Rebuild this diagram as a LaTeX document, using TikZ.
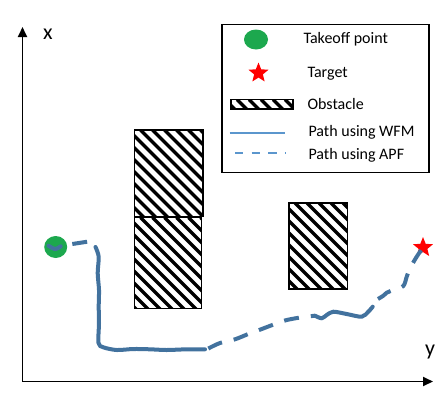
\documentclass[tikz,border=0pt]{standalone}
\usepackage{fontspec}
\setmainfont{Carlito}
\usetikzlibrary{shapes.geometric, arrows.meta}
\definecolor{pathblue}{RGB}{66,114,158}
\definecolor{legblue}{RGB}{91,150,205}
\definecolor{startgreen}{RGB}{28,168,78}
\tikzstyle{axis} = [line width = 1.8, -{Triangle[length=10pt, width=9pt]}]
\tikzstyle{wfm} = [line width = 4, color = pathblue, line cap = round, line join = round]
\tikzstyle{apf} = [line width = 4, color = pathblue, dash pattern = on 15pt off 12pt]
\newcommand{\hatchbox}[4]{
	\begin{scope}
		\clip (#1,#2) rectangle (#3,#4);
		\foreach \t in {-150,-138,...,100}
			\draw[line width = 3.4] ({#1+\t},#2) -- ++(160,160);
	\end{scope}
	\draw[line width = 1.8] (#1,#2) rectangle (#3,#4);}

\begin{document}
\begin{tikzpicture}[x=1pt, y=-1pt, legtext/.style={anchor=west, font=\fontsize{16}{19}\selectfont}]
	\useasboundingbox (0,0) rectangle (446,402);

	% Grid
%	\draw[dotted] (0,0) grid[step=20] (446,402);

	% Coordinates
	\coordinate (O) at (22.5,381.5);
	\coordinate (xend) at (22.5,27);
	\coordinate (yend) at (433,381.5);

	% Axes
	\draw[axis] (O) -- (xend);
	\draw[axis] (O) -- (yend);
	\node (xlab) [font=\fontsize{22}{24}\selectfont] at (48,34) {x};
	\node (ylab) [font=\fontsize{22}{24}\selectfont] at (430,352) {y};

	% Obstacles
	\hatchbox{134.5}{130}{203}{216.5}
	\hatchbox{134.5}{217.5}{201.5}{308.5}
	\hatchbox{289}{203}{347.5}{289}

	% Nodes
	\node (takeoff) [ellipse, fill=startgreen, minimum width=23, minimum height=22, inner sep=0] at (55.7,247) {};
	\node (target) [star, star points=5, star point ratio=2.3, fill=red, minimum size=21, inner sep=0] at (423,247.5) {};

	% Paths
	\draw[wfm] plot[smooth] coordinates {(48.5,245.7) (55,249) (60.7,246.3)};
	\draw[apf] (72.3,244) -- (87.3,241.7);
	\draw[wfm] plot[smooth, tension=0.5] coordinates {(95.5,247) (98.7,256.7) (97.7,273) (99,290) (98.7,306.7) (99,323) (98.5,343) (103.3,347.3) (116.7,350) (133.3,349) (150,349.3) (166.7,350) (186.7,349.3) (205,349.3)};
	\draw[apf] plot[smooth, tension=0.5] coordinates {(208.3,348.5) (220,343) (235,339.3) (248.3,334) (261,329.3) (275,324) (286.7,320) (301.7,317.3) (315,315.7)};
	\draw[wfm] plot[smooth, tension=0.5] coordinates {(315,315.7) (321.7,318.3) (326.7,315) (333.3,311.7) (346.7,314) (361.7,316.7) (368.3,311.7) (372.7,306.7)};
	\draw[apf] plot[smooth, tension=0.5] coordinates {(378,299) (383.3,295.7) (386.7,292.7) (393.3,290) (403.3,286) (406.7,276.7) (410,268.3) (416.7,256.7) (target.center)};

	% Legend
	\node (legend) [draw, line width=1.6, minimum width=207, minimum height=148, anchor=north west, inner sep=0] at (221,23.5) {};
	\node (legdot) [ellipse, fill=startgreen, minimum width=24, minimum height=20, inner sep=0] at (256,39.5) {};
	\node (legstar) [star, star points=5, star point ratio=2.3, fill=red, minimum size=21, inner sep=0] at (258.5,73) {};
	\hatchbox{231}{99.5}{293}{109}
	\coordinate (wfmA) at (229.5,132.7);
	\coordinate (wfmB) at (284.5,132.7);
	\coordinate (apfA) at (235,153.3);
	\coordinate (apfB) at (285,153.3);
	\draw[line width=1.8, color=legblue] (wfmA) -- (wfmB);
	\draw[line width=1.8, color=legblue, dash pattern=on 8.3pt off 8.3pt] (apfA) -- (apfB);
	\node (legtakeoff) [legtext] at (300,39) {Takeoff point};
	\node (legtarget) [legtext] at (304,74) {Target};
	\node (legobst) [legtext] at (304,104) {Obstacle};
	\node (legwfm) [legtext] at (305,132) {Path using WFM};
	\node (legapf) [legtext] at (305,155) {Path using APF};
\end{tikzpicture}
\end{document}
